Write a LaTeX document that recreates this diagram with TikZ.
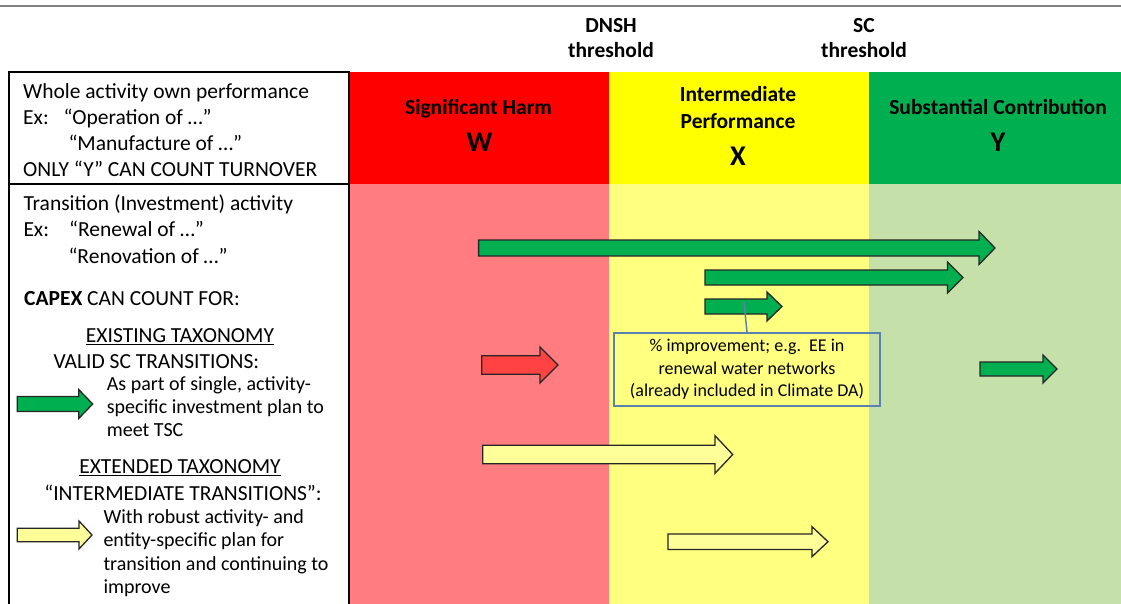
\documentclass[tikz,border=0pt]{standalone}
\usepackage{fontspec}
\setmainfont{Carlito}
\definecolor{harm}{HTML}{FF0000}
\definecolor{inter}{HTML}{FFFF00}
\definecolor{contrib}{HTML}{00B050}
\definecolor{harmlt}{HTML}{FF7C80}
\definecolor{interlt}{HTML}{FFFF80}
\definecolor{contriblt}{HTML}{C5E0A8}
\definecolor{arrred}{HTML}{FF4242}
\definecolor{arryel}{HTML}{FFFF99}
\definecolor{callblue}{HTML}{5A82B0}
\definecolor{rulegray}{HTML}{808080}
% block arrow: fill, tail x, tip x, centre y, shaft half-height, head half-height, head length
\newcommand{\blockarr}[7]{%
  \draw[arrline, fill=#1] (#2,#4-#5) -- (#3-#7,#4-#5) -- (#3-#7,#4-#6) -- (#3,#4)
    -- (#3-#7,#4+#6) -- (#3-#7,#4+#5) -- (#2,#4+#5) -- cycle;}
\begin{document}
\begin{tikzpicture}[x=1pt,y=-1pt,
  txt/.style={inner sep=0, anchor=base west, font=\fontsize{21.5}{26}\selectfont},
  desc/.style={txt, font=\fontsize{20}{24}\selectfont},
  ctxt/.style={txt, anchor=base},
  hd/.style={inner sep=0, anchor=base, font=\fontsize{21.5}{26}\selectfont\bfseries},
  big/.style={inner sep=0, anchor=base, font=\fontsize{28.5}{32}\selectfont\bfseries},
  arrline/.style={draw=black!85, line width=1.3pt, line join=miter},
  panel/.style={draw=black, line width=1.8pt},
  callbox/.style={draw=callblue, line width=1.5pt, minimum width=266pt, minimum height=73pt,
    inner sep=0, align=center, font=\fontsize{18}{22.5}\selectfont}]
\useasboundingbox (0,0) rectangle (1121,604);

% rule at the top
\draw[rulegray, line width=1.5pt] (0,6) -- (1121,6);

% threshold labels
\node[hd] (dnsh1) at (611,32.3) {DNSH};
\node[hd] (dnsh2) at (611,57.3) {threshold};
\node[hd] (sc1) at (864,32.3) {SC};
\node[hd] (sc2) at (864,57.3) {threshold};

% performance bands
\fill[harm] (349,72) rectangle (609,184);
\fill[inter] (609,72) rectangle (869,184);
\fill[contrib] (869,72) rectangle (1121,184);
\fill[harmlt] (349,184) rectangle (609,604);
\fill[interlt] (609,184) rectangle (869,604);
\fill[contriblt] (869,184) rectangle (1121,604);

% band headings
\node[hd] (sh) at (478.5,115) {Significant Harm};
\node[big] (w) at (479.5,151.7) {W};
\node[hd] (ip1) at (738,101.7) {Intermediate};
\node[hd] (ip2) at (738,128.3) {Performance};
\node[big] (x) at (738,165.7) {X};
\node[hd] (sc) at (998,115) {Substantial Contribution};
\node[big] (y) at (998,151.7) {Y};

% left panels
\draw[panel] (9,72) rectangle (349,184);
\draw[panel] (9,606) -- (9,184) -- (349,184) -- (349,606);

% whole activity panel
\node[txt] (wa1) at (23,98.7) {Whole activity own performance};
\node[txt] (wa2) at (23,124.3) {Ex:};
\node[txt] (wa3) at (63.3,124.3) {“Operation of …”};
\node[txt] (wa4) at (68.3,150.7) {“Manufacture of …”};
\node[txt] (wa5) at (23,176.7) {ONLY “Y” CAN COUNT TURNOVER};

% transition activity panel
\node[txt] (ta1) at (23.3,211) {Transition (Investment) activity};
\node[txt] (ta2) at (23.3,236.7) {Ex:};
\node[txt] (ta3) at (69,236.7) {“Renewal of …”};
\node[txt] (ta4) at (68.3,263.3) {“Renovation of …”};
\node[txt] (ta5) at (24,305) {\textbf{CAPEX} CAN COUNT FOR:};
\node[ctxt] (ex1) at (180,342.3) {\underline{EXISTING TAXONOMY}};
\node[txt] (ex2) at (53.3,368.3) {VALID SC TRANSITIONS:};
\node[desc] (ex3) at (106.7,390.7) {As part of single, activity-};
\node[desc] (ex4) at (106.7,413.3) {specific investment plan to};
\node[desc] (ex5) at (106.7,436.7) {meet TSC};
\node[ctxt] (et1) at (180,473.3) {\underline{EXTENDED TAXONOMY}};
\node[ctxt] (et2) at (183,500) {“INTERMEDIATE TRANSITIONS”:};
\node[desc] (et3) at (103.3,523.3) {With robust activity- and};
\node[desc] (et4) at (103.3,546.7) {entity-specific plan for};
\node[desc] (et5) at (103.3,570) {transition and continuing to};
\node[desc] (et6) at (103.3,593.3) {improve};

% legend arrows
\blockarr{contrib}{17.3}{92.7}{404}{7.5}{14.5}{14}
\blockarr{arryel}{17.3}{92}{535}{6.8}{14}{13}

% transition arrows
\blockarr{contrib}{478.6}{995}{248}{8}{16.5}{16}
\blockarr{contrib}{705}{963}{277.5}{7.5}{15.5}{15.5}
\blockarr{contrib}{705}{782}{306.5}{7.5}{14.5}{15}
\blockarr{arrred}{481.7}{558}{365}{9.2}{18}{18}
\blockarr{contrib}{980}{1057}{369}{7}{14}{14}
\blockarr{arryel}{482.7}{732.7}{454.5}{9.2}{18.8}{17.7}
\blockarr{arryel}{668}{828}{541.7}{7.7}{15}{16}

% callout on the short arrow
\coordinate (a3b) at (744,302);
\node[callbox] (callout) at (747,369.5)
  {\% improvement; e.g.\ \ EE in\\renewal water networks\\(already included in Climate DA)};
\draw[callblue, line width=1.5pt] (a3b) -- (callout.north);
\end{tikzpicture}
\end{document}
